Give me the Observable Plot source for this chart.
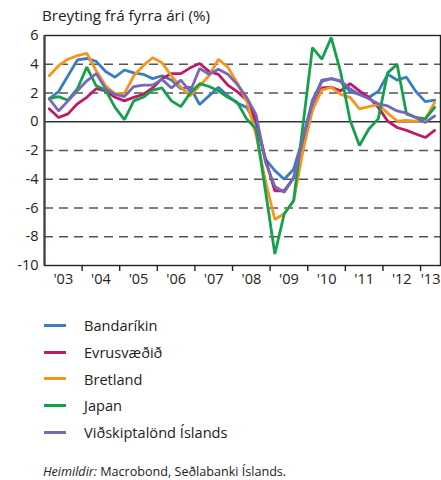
<!DOCTYPE html>
<html>
<head>
<meta charset="utf-8">
<script src="https://cdn.jsdelivr.net/npm/d3@7"></script>
<script src="https://cdn.jsdelivr.net/npm/@observablehq/plot@0.6"></script>
<style>
  html, body { margin: 0; padding: 0; background: #fff; }
  #wrap { position: relative; width: 441px; height: 480px; font-family: "Open Sans", sans-serif; color: #222; }
  #title { position: absolute; left: 42px; top: 5px; font-size: 15.2px; }
  #chart { position: absolute; left: 0; top: 0; }
  #legend { position: absolute; left: 44px; top: 312px; }
  .item { display: flex; align-items: center; height: 26.7px; font-size: 14.6px; }
  .sw { width: 22px; height: 3px; margin-right: 18px; }
  #caption { position: absolute; left: 43px; top: 463px; font-size: 12.6px; }
</style>
</head>
<body>
<div id="wrap">
  <div id="chart"></div>
  <div id="title">Breyting frá fyrra ári (%)</div>
  <div id="legend"></div>
  <div id="caption"><i>Heimildir:</i> Macrobond, Seðlabanki Íslands.</div>
</div>
<script>
// Quarterly data, 2003Q1 – 2013Q2
const startYear = 2003;
const seriesNames = ["Bandaríkin", "Evrusvæðið", "Bretland", "Japan", "Viðskiptalönd Íslands"];
const seriesColors = ["#3b7cc4", "#be1a66", "#f7941d", "#14a14c", "#7568b6"];

const bandarikin = [1.6, 2.1, 3.2, 4.3, 4.4, 4.2, 3.5, 3.1, 3.6, 3.4, 3.3, 3.0, 3.2, 2.9, 2.3, 2.4, 1.2, 1.8, 2.4, 1.8, 1.3, 1.0, -0.1, -2.6, -3.4, -4.0, -3.3, -1.1, 1.5, 2.8, 3.0, 2.8, 2.1, 1.9, 1.7, 2.1, 3.3, 2.9, 3.1, 2.1, 1.4, 1.5];
const evrusvaedid = [0.9, 0.3, 0.55, 1.25, 1.7, 2.3, 2.15, 1.7, 1.45, 1.7, 1.9, 2.35, 3.0, 3.35, 3.35, 3.75, 4.05, 3.5, 3.3, 2.55, 2.1, 1.5, 0.1, -2.6, -4.8, -4.8, -3.9, -1.3, 0.9, 2.35, 2.4, 2.15, 2.65, 2.15, 1.7, 1.0, 0.05, -0.4, -0.6, -0.85, -1.1, -0.6];
const bretland = [3.2, 3.9, 4.35, 4.6, 4.75, 3.55, 2.5, 1.95, 1.95, 3.2, 3.9, 4.45, 4.1, 3.2, 2.4, 1.8, 2.5, 3.2, 4.35, 3.8, 2.7, 1.45, -0.9, -4.1, -6.8, -6.4, -5.5, -2.0, 0.8, 2.2, 2.4, 1.9, 1.7, 0.9, 1.05, 1.2, 0.6, 0.05, 0.1, 0.05, 0.2, 1.35];
const japan = [1.6, 1.75, 1.5, 2.3, 3.8, 2.5, 2.2, 1.0, 0.15, 1.45, 1.7, 2.2, 2.35, 1.45, 1.05, 2.0, 2.65, 2.45, 2.15, 1.7, 1.35, 0.2, -0.5, -4.8, -9.2, -6.4, -5.5, -0.2, 5.15, 4.35, 5.85, 3.45, 0.1, -1.65, -0.5, 0.2, 3.4, 4.0, 0.55, 0.3, 0.2, 1.0];
const vidskiptalond = [1.6, 0.75, 1.45, 2.15, 2.85, 3.35, 2.3, 1.9, 1.75, 2.45, 2.55, 2.55, 2.95, 2.35, 2.9, 2.1, 3.7, 3.3, 3.65, 3.3, 2.6, 1.7, 0.5, -2.8, -4.5, -4.9, -3.9, -1.2, 1.3, 2.9, 3.0, 2.85, 2.3, 1.9, 1.6, 1.25, 1.1, 0.75, 0.6, 0.3, -0.05, 0.4];

const yTicks = [6, 4, 2, 0, -2, -4, -6, -8, -10];
const gridLines = [4, 2, -2, -4, -6, -8];
const yearLabels = ["'03", "'04", "'05", "'06", "'07", "'08", "'09", "'10", "'11", "'12", "'13"];
const xMax = 2013.53;

const allSeries = [bandarikin, evrusvaedid, bretland, japan, vidskiptalond];
const data = [];
allSeries.forEach((vals, s) => vals.forEach((v, i) => data.push({ t: startYear + (i + 0.5) / 4, v, name: seriesNames[s] })));

const years = yearLabels.map((_, i) => startYear + i);
const labelPos = years.map(y => ({ x: Math.min(y + 0.5, (y + xMax) / 2), label: yearLabels[y - startYear] }));

const chart = Plot.plot({
  width: 441,
  height: 295,
  marginLeft: 44,
  marginRight: 1,
  marginTop: 35,
  marginBottom: 30,
  style: { fontFamily: "Open Sans, sans-serif", fontSize: "14px", color: "#222", background: "white" },
  x: { domain: [startYear, xMax] },
  y: { domain: [-10, 6] },
  color: { domain: seriesNames, range: seriesColors },
  marks: [
    Plot.ruleY(gridLines, { stroke: "#555", strokeWidth: 1.4, strokeDasharray: "9,6" }),
    Plot.ruleY([0], { stroke: "#333", strokeWidth: 1.4 }),
    Plot.line(data, { x: "t", y: "v", z: "name", stroke: "name", strokeWidth: 2.8, strokeLinejoin: "miter" }),
    Plot.frame({ stroke: "#222", strokeWidth: 1.4 }),
    Plot.ruleX([startYear], { stroke: "#444", strokeWidth: 2.2 }),
    Plot.axisX(years.slice(1), { tickSize: 6, tickFormat: () => "", label: null, stroke: "#222", strokeWidth: 1.4 }),
    Plot.text(labelPos, { x: "x", y: -10, text: "label", dy: 14, fontSize: 14.5, fill: "#222" }),
    Plot.axisY(yTicks, { tickSize: 0, tickPadding: 6, fontSize: 14.5, label: null, tickFormat: d => String(d), fill: "#222" })
  ]
});
document.getElementById("chart").appendChild(chart);

const legend = document.getElementById("legend");
seriesNames.forEach((n, i) => {
  const row = document.createElement("div");
  row.className = "item";
  const sw = document.createElement("div");
  sw.className = "sw";
  sw.style.background = seriesColors[i];
  const lab = document.createElement("span");
  lab.textContent = n;
  row.appendChild(sw);
  row.appendChild(lab);
  legend.appendChild(row);
});
</script>
</body>
</html>
